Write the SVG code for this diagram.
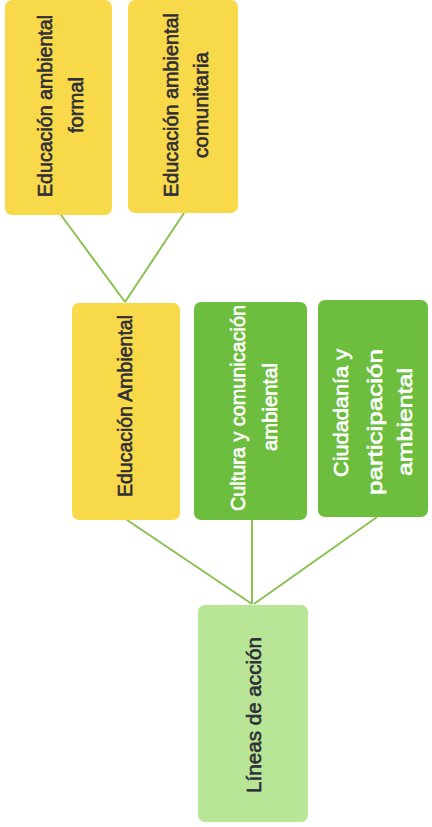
<svg xmlns="http://www.w3.org/2000/svg" width="432" height="827" viewBox="0 0 432 827">
<style>
.yellow{fill:#F8D94A}
.green{fill:#6DBE3E}
.light{fill:#B8E596}
.t{font-family:"Liberation Sans",Arial,sans-serif;font-size:21px;text-anchor:middle;stroke-width:0.6}
.dark{fill:#2E2D38;stroke:#2E2D38}
.white{fill:#FFFFFF;stroke:#FFFFFF}
.conn{stroke:#8CC152;stroke-width:2;fill:none}
</style>
<rect width="432" height="827" fill="#FFFFFF"/>
<g id="connectors">
<line class="conn" x1="61" y1="215" x2="125" y2="302"/>
<line class="conn" x1="184" y1="213" x2="125" y2="302"/>
<line class="conn" x1="127" y1="520" x2="252" y2="604"/>
<line class="conn" x1="252" y1="520" x2="252" y2="604"/>
<line class="conn" x1="377" y1="517" x2="254" y2="604"/>
</g>
<g id="formal">
<rect class="yellow" x="5" y="0" width="107" height="215" rx="7"/>
<text class="t dark" transform="translate(52,106) rotate(-90)" textLength="182" lengthAdjust="spacingAndGlyphs">Educación ambiental</text>
<text class="t dark" transform="translate(83,105) rotate(-90)" textLength="56" lengthAdjust="spacingAndGlyphs">formal</text>
</g>
<g id="comunitaria">
<rect class="yellow" x="128" y="0" width="110" height="213" rx="7"/>
<text class="t dark" transform="translate(178,105) rotate(-90)" textLength="184" lengthAdjust="spacingAndGlyphs">Educación ambiental</text>
<text class="t dark" transform="translate(208,105) rotate(-90)" textLength="106" lengthAdjust="spacingAndGlyphs">comunitaria</text>
</g>
<g id="educacion-ambiental">
<rect class="yellow" x="72" y="303" width="108" height="217" rx="7"/>
<text class="t dark" transform="translate(132,406) rotate(-90)" textLength="182" lengthAdjust="spacingAndGlyphs">Educación Ambiental</text>
</g>
<g id="cultura">
<rect class="green" x="194" y="302" width="113" height="218" rx="7"/>
<text class="t white" transform="translate(245,408) rotate(-90)" textLength="206" lengthAdjust="spacingAndGlyphs">Cultura y comunicación</text>
<text class="t white" transform="translate(277,407) rotate(-90)" textLength="88" lengthAdjust="spacingAndGlyphs">ambiental</text>
</g>
<g id="ciudadania">
<rect class="green" x="318" y="300" width="110" height="217" rx="7"/>
<text class="t white" transform="translate(348,413) rotate(-90)" textLength="128" lengthAdjust="spacingAndGlyphs">Ciudadanía y</text>
<text class="t white" transform="translate(382,422) rotate(-90)" textLength="146" lengthAdjust="spacingAndGlyphs">participación</text>
<text class="t white" transform="translate(412,422) rotate(-90)" textLength="108" lengthAdjust="spacingAndGlyphs">ambiental</text>
</g>
<g id="lineas">
<rect class="light" x="198" y="605" width="110" height="217" rx="7"/>
<text class="t dark" transform="translate(261,715) rotate(-90)" textLength="156" lengthAdjust="spacingAndGlyphs">Líneas de acción</text>
</g>
</svg>
